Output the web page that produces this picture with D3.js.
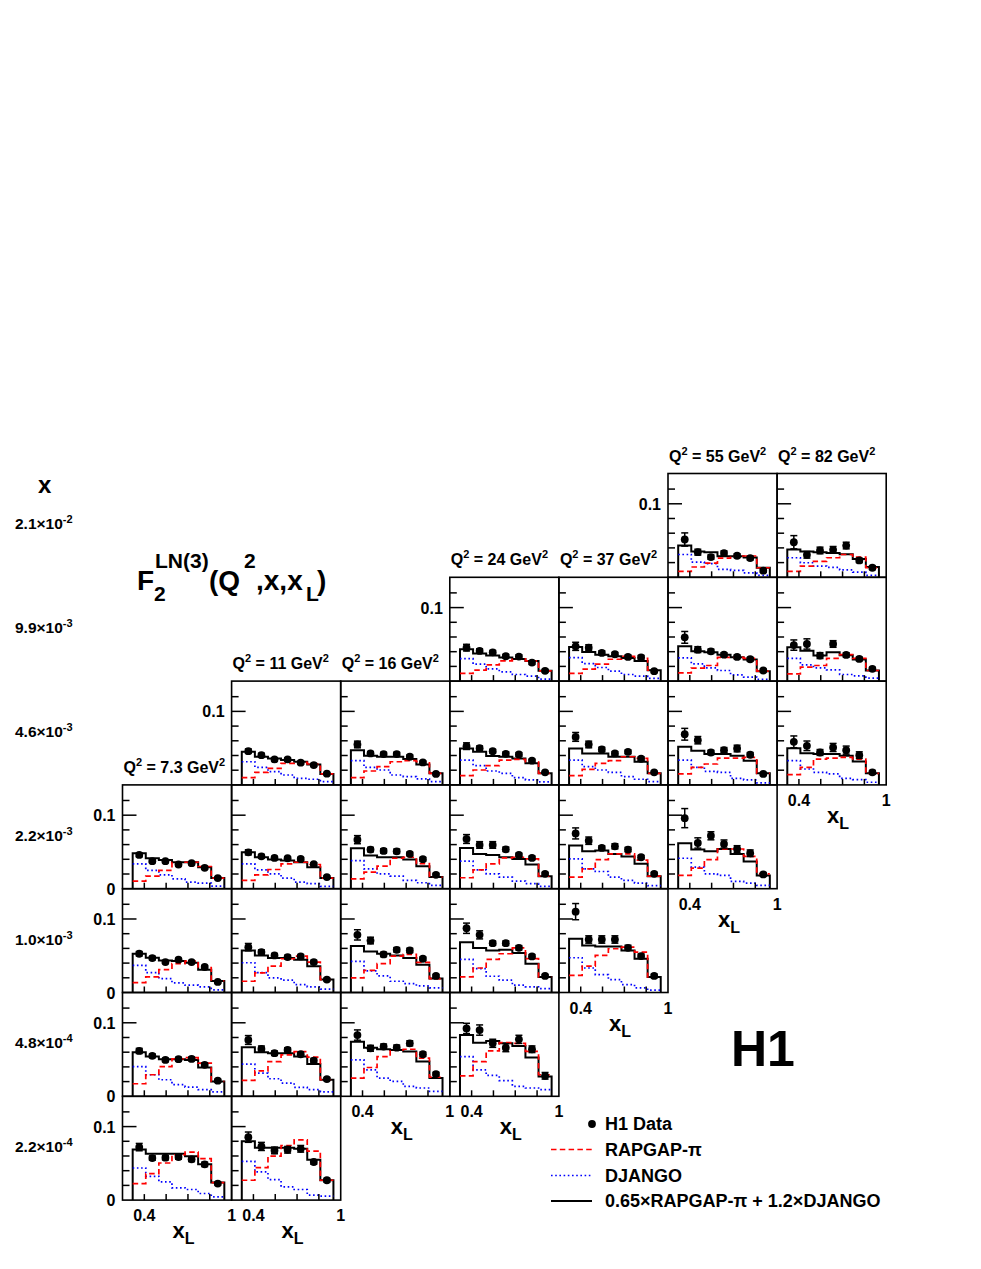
<!DOCTYPE html>
<html><head><meta charset="utf-8">
<script src="https://cdn.jsdelivr.net/npm/d3@7"></script>
<style>
body{margin:0;background:#fff;}
text{font-family:"Liberation Sans",Arial,Helvetica,sans-serif;font-weight:bold;fill:#000;}
</style>
</head><body>
<svg id="chart" width="981" height="1269"></svg>
<script>
// ---------------- data ----------------
const q2Values = ["7.3","11","16","24","37","55","82"];
const xRowMantissa = ["2.1","9.9","4.6","2.2","1.0","4.8","2.2"];
const xRowExponent = ["-2","-3","-3","-3","-3","-4","-4"];
const xlEdges = [0.32,0.41,0.50,0.59,0.68,0.77,0.86,0.95];
const xlCenters = [0.365,0.455,0.545,0.635,0.725,0.815,0.905];
const yTickValues = [0.02,0.04,0.06,0.08,0.1,0.12];
const yMajorTicks = [0.1];
const xTickValues = [0.4,0.55,0.7,0.85];
const xTickLabels = [0.4,1];

// panel positions in the grid (row = x bin, col = Q2 bin)
const panelRow = [0,0, 1,1,1,1, 2,2,2,2,2,2, 3,3,3,3,3,3, 4,4,4,4,4, 5,5,5,5, 6,6];
const panelCol = [5,6, 3,4,5,6, 1,2,3,4,5,6, 0,1,2,3,4,5, 0,1,2,3,4, 0,1,2,3, 0,1];

const h1Data = [
 [0.0514,0.0342,0.0275,0.0329,0.0293,0.0261,0.0090],
 [0.0477,0.0306,0.0365,0.0374,0.0432,0.0230,0.0130],
 [0.0455,0.0410,0.0392,0.0338,0.0333,0.0252,0.0140],
 [0.0473,0.0455,0.0383,0.0365,0.0329,0.0324,0.0135],
 [0.0595,0.0428,0.0405,0.0360,0.0329,0.0297,0.0144],
 [0.0490,0.0505,0.0347,0.0505,0.0356,0.0302,0.0167],
 [0.0459,0.0405,0.0347,0.0347,0.0302,0.0270,0.0153],
 [0.0550,0.0428,0.0419,0.0419,0.0383,0.0306,0.0149],
 [0.0527,0.0500,0.0459,0.0423,0.0414,0.0329,0.0171],
 [0.0653,0.0550,0.0482,0.0428,0.0450,0.0356,0.0171],
 [0.0689,0.0608,0.0441,0.0473,0.0495,0.0410,0.0149],
 [0.0586,0.0532,0.0441,0.0509,0.0473,0.0405,0.0171],
 [0.0459,0.0374,0.0374,0.0329,0.0347,0.0284,0.0144],
 [0.0495,0.0441,0.0419,0.0414,0.0405,0.0333,0.0158],
 [0.0667,0.0532,0.0514,0.0509,0.0473,0.0401,0.0189],
 [0.0676,0.0595,0.0595,0.0536,0.0459,0.0419,0.0203],
 [0.0752,0.0653,0.0554,0.0577,0.0532,0.0428,0.0203],
 [0.0960,0.0622,0.0720,0.0608,0.0540,0.0482,0.0194],
 [0.0527,0.0468,0.0414,0.0446,0.0414,0.0347,0.0144],
 [0.0617,0.0550,0.0505,0.0482,0.0491,0.0414,0.0176],
 [0.0784,0.0707,0.0518,0.0581,0.0572,0.0459,0.0225],
 [0.0874,0.0784,0.0671,0.0671,0.0608,0.0491,0.0225],
 [0.1100,0.0721,0.0721,0.0721,0.0608,0.0495,0.0225],
 [0.0617,0.0550,0.0495,0.0505,0.0509,0.0428,0.0212],
 [0.0766,0.0644,0.0586,0.0631,0.0572,0.0486,0.0234],
 [0.0833,0.0653,0.0676,0.0662,0.0721,0.0572,0.0302],
 [0.0923,0.0901,0.0721,0.0662,0.0775,0.0640,0.0279],
 [0.0721,0.0572,0.0577,0.0586,0.0554,0.0486,0.0225],
 [0.0856,0.0730,0.0676,0.0685,0.0698,0.0518,0.0270]
];
const h1Err = [
 [0.0090,0.0040,0.0030,0.0030,0.0025,0.0025,0.0020],
 [0.0090,0.0045,0.0045,0.0045,0.0045,0.0030,0.0025],
 [0.0045,0.0030,0.0025,0.0025,0.0025,0.0025,0.0020],
 [0.0055,0.0040,0.0030,0.0025,0.0025,0.0025,0.0020],
 [0.0080,0.0040,0.0030,0.0025,0.0025,0.0025,0.0020],
 [0.0070,0.0070,0.0040,0.0045,0.0030,0.0025,0.0020],
 [0.0030,0.0025,0.0020,0.0020,0.0020,0.0020,0.0015],
 [0.0045,0.0025,0.0025,0.0025,0.0025,0.0020,0.0015],
 [0.0045,0.0030,0.0025,0.0025,0.0025,0.0020,0.0015],
 [0.0060,0.0045,0.0030,0.0025,0.0025,0.0025,0.0015],
 [0.0080,0.0050,0.0030,0.0035,0.0045,0.0030,0.0020],
 [0.0080,0.0065,0.0040,0.0055,0.0055,0.0045,0.0025],
 [0.0025,0.0020,0.0020,0.0020,0.0020,0.0020,0.0015],
 [0.0035,0.0025,0.0020,0.0020,0.0020,0.0020,0.0015],
 [0.0055,0.0030,0.0030,0.0030,0.0025,0.0025,0.0020],
 [0.0060,0.0045,0.0045,0.0030,0.0025,0.0025,0.0020],
 [0.0075,0.0050,0.0030,0.0035,0.0030,0.0025,0.0020],
 [0.0130,0.0070,0.0055,0.0055,0.0045,0.0045,0.0025],
 [0.0030,0.0025,0.0020,0.0020,0.0020,0.0020,0.0015],
 [0.0050,0.0030,0.0025,0.0025,0.0025,0.0025,0.0020],
 [0.0070,0.0045,0.0030,0.0030,0.0030,0.0025,0.0020],
 [0.0070,0.0055,0.0030,0.0030,0.0030,0.0025,0.0020],
 [0.0110,0.0050,0.0050,0.0050,0.0035,0.0030,0.0025],
 [0.0035,0.0025,0.0025,0.0025,0.0025,0.0025,0.0020],
 [0.0060,0.0040,0.0030,0.0030,0.0030,0.0030,0.0020],
 [0.0070,0.0040,0.0035,0.0035,0.0035,0.0030,0.0025],
 [0.0070,0.0070,0.0055,0.0055,0.0055,0.0045,0.0045],
 [0.0050,0.0030,0.0030,0.0030,0.0030,0.0030,0.0020],
 [0.0070,0.0055,0.0045,0.0045,0.0045,0.0030,0.0025]
];
const rapgap = [
 [0.0081,0.0140,0.0194,0.0260,0.0290,0.0290,0.0130],
 [0.0081,0.0153,0.0216,0.0266,0.0310,0.0275,0.0130],
 [0.0104,0.0149,0.0221,0.0275,0.0302,0.0275,0.0140],
 [0.0104,0.0162,0.0230,0.0297,0.0338,0.0310,0.0149],
 [0.0113,0.0176,0.0212,0.0324,0.0324,0.0310,0.0135],
 [0.0099,0.0189,0.0212,0.0310,0.0360,0.0310,0.0144],
 [0.0099,0.0171,0.0225,0.0293,0.0306,0.0284,0.0149],
 [0.0099,0.0189,0.0248,0.0315,0.0329,0.0315,0.0158],
 [0.0126,0.0203,0.0261,0.0338,0.0347,0.0315,0.0158],
 [0.0126,0.0212,0.0293,0.0329,0.0383,0.0360,0.0158],
 [0.0149,0.0239,0.0284,0.0365,0.0365,0.0374,0.0158],
 [0.0140,0.0239,0.0351,0.0365,0.0374,0.0351,0.0158],
 [0.0104,0.0171,0.0248,0.0360,0.0360,0.0302,0.0144],
 [0.0113,0.0189,0.0261,0.0338,0.0360,0.0329,0.0144],
 [0.0135,0.0225,0.0306,0.0414,0.0428,0.0340,0.0158],
 [0.0149,0.0257,0.0338,0.0419,0.0428,0.0405,0.0171],
 [0.0158,0.0270,0.0396,0.0473,0.0473,0.0390,0.0171],
 [0.0180,0.0279,0.0396,0.0540,0.0540,0.0441,0.0203],
 [0.0135,0.0212,0.0311,0.0392,0.0428,0.0340,0.0158],
 [0.0153,0.0266,0.0360,0.0459,0.0495,0.0414,0.0176],
 [0.0198,0.0302,0.0392,0.0495,0.0518,0.0410,0.0189],
 [0.0212,0.0333,0.0450,0.0527,0.0608,0.0460,0.0212],
 [0.0234,0.0360,0.0505,0.0595,0.0617,0.0550,0.0212],
 [0.0171,0.0293,0.0405,0.0509,0.0527,0.0450,0.0203],
 [0.0216,0.0347,0.0473,0.0563,0.0608,0.0532,0.0225],
 [0.0248,0.0392,0.0540,0.0630,0.0640,0.0520,0.0261],
 [0.0279,0.0473,0.0617,0.0730,0.0721,0.0610,0.0293],
 [0.0225,0.0360,0.0505,0.0617,0.0653,0.0563,0.0239],
 [0.0270,0.0441,0.0599,0.0743,0.0820,0.0667,0.0270]
];
const django = [
 [0.0310,0.0207,0.0185,0.0108,0.0095,0.0059,0.0027],
 [0.0266,0.0198,0.0153,0.0135,0.0100,0.0070,0.0027],
 [0.0306,0.0230,0.0167,0.0126,0.0090,0.0068,0.0027],
 [0.0320,0.0239,0.0185,0.0135,0.0090,0.0068,0.0036],
 [0.0315,0.0234,0.0180,0.0144,0.0086,0.0054,0.0023],
 [0.0310,0.0220,0.0180,0.0153,0.0090,0.0072,0.0040],
 [0.0315,0.0239,0.0180,0.0135,0.0090,0.0077,0.0045],
 [0.0329,0.0239,0.0203,0.0135,0.0113,0.0081,0.0045],
 [0.0338,0.0261,0.0189,0.0158,0.0099,0.0068,0.0041],
 [0.0338,0.0248,0.0203,0.0171,0.0113,0.0077,0.0045],
 [0.0338,0.0239,0.0185,0.0171,0.0090,0.0068,0.0027],
 [0.0329,0.0216,0.0171,0.0149,0.0090,0.0072,0.0036],
 [0.0338,0.0248,0.0189,0.0135,0.0090,0.0077,0.0036],
 [0.0338,0.0257,0.0203,0.0144,0.0090,0.0068,0.0032],
 [0.0383,0.0270,0.0203,0.0171,0.0113,0.0081,0.0045],
 [0.0374,0.0257,0.0203,0.0158,0.0104,0.0068,0.0032],
 [0.0405,0.0270,0.0234,0.0158,0.0113,0.0077,0.0041],
 [0.0414,0.0293,0.0203,0.0180,0.0099,0.0077,0.0045],
 [0.0369,0.0270,0.0189,0.0130,0.0099,0.0077,0.0036],
 [0.0405,0.0270,0.0198,0.0167,0.0108,0.0077,0.0045],
 [0.0423,0.0293,0.0225,0.0153,0.0122,0.0090,0.0063],
 [0.0450,0.0324,0.0221,0.0167,0.0099,0.0077,0.0054],
 [0.0473,0.0333,0.0243,0.0176,0.0108,0.0063,0.0032],
 [0.0405,0.0293,0.0225,0.0158,0.0126,0.0090,0.0059],
 [0.0437,0.0315,0.0239,0.0180,0.0122,0.0090,0.0059],
 [0.0495,0.0360,0.0248,0.0203,0.0135,0.0113,0.0068],
 [0.0540,0.0360,0.0284,0.0212,0.0135,0.0113,0.0090],
 [0.0437,0.0324,0.0248,0.0167,0.0144,0.0090,0.0045],
 [0.0527,0.0383,0.0279,0.0180,0.0144,0.0068,0.0054]
];
const combined = [
 [0.0432,0.0351,0.0342,0.0288,0.0288,0.0270,0.0130],
 [0.0378,0.0350,0.0340,0.0330,0.0315,0.0250,0.0140],
 [0.0432,0.0374,0.0347,0.0320,0.0302,0.0275,0.0140],
 [0.0464,0.0396,0.0360,0.0338,0.0315,0.0275,0.0149],
 [0.0473,0.0405,0.0392,0.0360,0.0324,0.0293,0.0135],
 [0.0460,0.0414,0.0347,0.0392,0.0350,0.0293,0.0144],
 [0.0450,0.0383,0.0360,0.0338,0.0315,0.0279,0.0149],
 [0.0473,0.0396,0.0383,0.0383,0.0351,0.0279,0.0158],
 [0.0495,0.0450,0.0392,0.0383,0.0360,0.0293,0.0158],
 [0.0495,0.0428,0.0428,0.0383,0.0383,0.0315,0.0158],
 [0.0518,0.0464,0.0419,0.0419,0.0396,0.0329,0.0158],
 [0.0500,0.0432,0.0419,0.0419,0.0396,0.0320,0.0158],
 [0.0482,0.0414,0.0392,0.0360,0.0360,0.0293,0.0144],
 [0.0495,0.0428,0.0396,0.0383,0.0360,0.0293,0.0144],
 [0.0550,0.0450,0.0428,0.0428,0.0396,0.0306,0.0158],
 [0.0554,0.0473,0.0459,0.0428,0.0405,0.0329,0.0171],
 [0.0586,0.0509,0.0518,0.0473,0.0437,0.0338,0.0171],
 [0.0617,0.0532,0.0509,0.0540,0.0473,0.0369,0.0180],
 [0.0527,0.0473,0.0437,0.0428,0.0405,0.0311,0.0158],
 [0.0572,0.0505,0.0468,0.0468,0.0446,0.0356,0.0176],
 [0.0631,0.0559,0.0527,0.0505,0.0468,0.0378,0.0189],
 [0.0685,0.0604,0.0572,0.0581,0.0536,0.0392,0.0212],
 [0.0730,0.0640,0.0626,0.0626,0.0572,0.0459,0.0212],
 [0.0599,0.0540,0.0505,0.0505,0.0495,0.0392,0.0203],
 [0.0667,0.0599,0.0586,0.0586,0.0541,0.0441,0.0225],
 [0.0743,0.0662,0.0640,0.0631,0.0608,0.0473,0.0248],
 [0.0833,0.0730,0.0752,0.0721,0.0685,0.0527,0.0270],
 [0.0689,0.0631,0.0631,0.0631,0.0595,0.0486,0.0239],
 [0.0802,0.0712,0.0712,0.0712,0.0698,0.0550,0.0270]
];

// ---------------- layout ----------------
const L0 = 122.5, PW = 109.1, T0 = 473.5, PH = 103.8;
const X_DOMAIN = [0.25, 1.0], Y_DOMAIN = [0, 0.1412];
const nCols = 7, nRows = 7;

const svg = d3.select("#chart");
const g = svg.append("g");

function panelX(c){ return d3.scaleLinear().domain(X_DOMAIN).range([L0 + c*PW, L0 + (c+1)*PW]); }
function panelY(r){ return d3.scaleLinear().domain(Y_DOMAIN).range([T0 + (r+1)*PH, T0 + r*PH]); }

const colBottomRow = d3.range(nCols).map(c => d3.max(panelRow.filter((r,i)=>panelCol[i]===c)));
const colTopRow = d3.range(nCols).map(c => d3.min(panelRow.filter((r,i)=>panelCol[i]===c)));
const rowFirstCol = d3.range(nRows).map(r => d3.min(panelCol.filter((c,i)=>panelRow[i]===r)));

const stepPts = vals => {
  const pts = [];
  vals.forEach((v,i)=>{ pts.push([xlEdges[i], v]); pts.push([xlEdges[i+1], v]); });
  return pts;
};

panelRow.forEach((r, i) => {
  const c = panelCol[i];
  const x = panelX(c), y = panelY(r);
  const pg = g.append("g");
  const line = d3.line().x(d=>x(d[0])).y(d=>y(d[1]));

  const cpts = [[xlEdges[0],0]].concat(stepPts(combined[i])).concat([[xlEdges[7],0]]);
  pg.append("path").attr("d", line(cpts)).attr("fill","none")
    .attr("stroke","#000").attr("stroke-width",2);
  pg.append("path").attr("d", line(stepPts(django[i]))).attr("fill","none")
    .attr("stroke","#0000ff").attr("stroke-width",1.7).attr("stroke-dasharray","1.6,2.6");
  pg.append("path").attr("d", line(stepPts(rapgap[i]))).attr("fill","none")
    .attr("stroke","#ff0000").attr("stroke-width",1.7).attr("stroke-dasharray","5.5,3.3");

  pg.append("rect").attr("x", x.range()[0]).attr("y", y.range()[1])
    .attr("width", PW).attr("height", PH).attr("fill","none")
    .attr("stroke","#000").attr("stroke-width",1.6);

  yTickValues.forEach(t => {
    const len = yMajorTicks.includes(t) ? 14 : 7;
    pg.append("line").attr("x1", x.range()[0]).attr("x2", x.range()[0]+len)
      .attr("y1", y(t)).attr("y2", y(t)).attr("stroke","#000").attr("stroke-width",1.5);
  });
  xTickValues.forEach(t => {
    pg.append("line").attr("x1", x(t)).attr("x2", x(t))
      .attr("y1", y(0)).attr("y2", y(0)-6).attr("stroke","#000").attr("stroke-width",1.5);
  });

  h1Data[i].forEach((v, k) => {
    const e = h1Err[i][k], cx = x(xlCenters[k]);
    pg.append("line").attr("x1",cx).attr("x2",cx).attr("y1",y(v-e)).attr("y2",y(v+e))
      .attr("stroke","#000").attr("stroke-width",1.5);
    [v-e, v+e].forEach(ev => pg.append("line").attr("x1",cx-3.5).attr("x2",cx+3.5)
      .attr("y1",y(ev)).attr("y2",y(ev)).attr("stroke","#000").attr("stroke-width",1.5));
    pg.append("circle").attr("cx",cx).attr("cy",y(v)).attr("r",3.9).attr("fill","#000");
  });

  if (c === rowFirstCol[r]) {
    pg.append("text").attr("x", x.range()[0]-7).attr("y", y(0.1)+6)
      .attr("text-anchor","end").attr("font-size",16).text("0.1");
    if (r >= 3) pg.append("text").attr("x", x.range()[0]-7).attr("y", y(0)+6)
      .attr("text-anchor","end").attr("font-size",16).text("0");
  }
  if (r === colBottomRow[c]) {
    xTickLabels.forEach(t => pg.append("text").attr("x", x(t)).attr("y", y(0)+21)
      .attr("text-anchor","middle").attr("font-size",16).text(d3.format("")(t)));
    const tt = pg.append("text").attr("x", x.range()[0]+50).attr("y", y(0)+38).attr("font-size",22);
    tt.append("tspan").text("x");
    tt.append("tspan").attr("font-size",16).attr("dy",6).text("L");
  }
  if (r === colTopRow[c]) {
    const q = pg.append("text").attr("x", x.range()[0]+1).attr("y", y.range()[1]-12).attr("font-size",16);
    q.append("tspan").text("Q");
    q.append("tspan").attr("font-size",11).attr("dy",-7).text("2");
    q.append("tspan").attr("dy",7).text(" = " + q2Values[c] + " GeV");
    q.append("tspan").attr("font-size",11).attr("dy",-7).text("2");
  }
});

// row labels (x values)
xRowMantissa.forEach((m, r) => {
  const t = g.append("text").attr("x", 15).attr("y", T0 + r*PH + PH/2 + 4).attr("font-size",15.5);
  t.append("tspan").text(m + "\u00d710");
  t.append("tspan").attr("font-size",11).attr("dy",-6).text(xRowExponent[r]);
});
g.append("text").attr("x",38).attr("y",493).attr("font-size",24).text("x");

// title
const title = [
  {s:"F", x:137, y:590, f:28},
  {s:"2", x:154, y:601, f:21},
  {s:"LN(3)", x:155, y:568, f:21},
  {s:"(Q", x:209, y:590, f:28},
  {s:"2", x:244, y:568, f:21},
  {s:",x,x", x:256, y:590, f:28},
  {s:"L", x:306, y:601, f:21},
  {s:")", x:317, y:590, f:28}
];
title.forEach(t => g.append("text").attr("x",t.x).attr("y",t.y).attr("font-size",t.f).text(t.s));

// H1 logo
g.append("text").attr("x",731).attr("y",1066).attr("font-size",50).text("H1");

// legend
const leg = g.append("g");
const legX0 = 551, legX1 = 592, legTx = 605;
leg.append("circle").attr("cx",592).attr("cy",1124).attr("r",3.9).attr("fill","#000");
leg.append("line").attr("x1",legX0).attr("x2",legX1).attr("y1",1149.5).attr("y2",1149.5)
  .attr("stroke","#ff0000").attr("stroke-width",1.7).attr("stroke-dasharray","5.5,3.3");
leg.append("line").attr("x1",legX0).attr("x2",legX1).attr("y1",1175.5).attr("y2",1175.5)
  .attr("stroke","#0000ff").attr("stroke-width",1.7).attr("stroke-dasharray","1.6,2.6");
leg.append("line").attr("x1",legX0).attr("x2",legX1).attr("y1",1201).attr("y2",1201)
  .attr("stroke","#000").attr("stroke-width",1.8);
const legTexts = ["H1 Data","RAPGAP-\u03c0","DJANGO","0.65\u00d7RAPGAP-\u03c0 + 1.2\u00d7DJANGO"];
legTexts.forEach((s,k) => leg.append("text").attr("x",legTx).attr("y",1130 + k*25.8)
  .attr("font-size",18).text(s));
</script>
</body></html>
